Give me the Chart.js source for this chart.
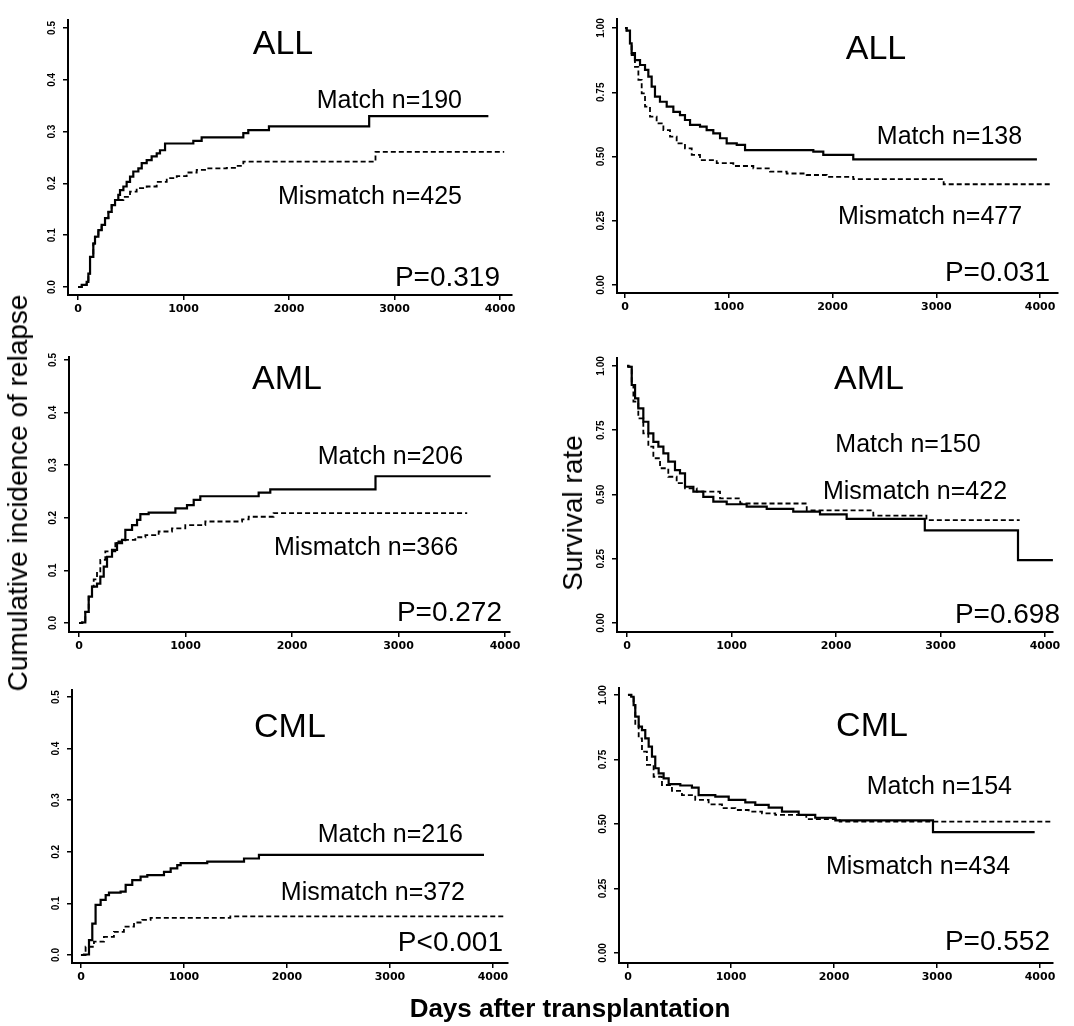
<!DOCTYPE html>
<html>
<head>
<meta charset="utf-8">
<script src="https://cdn.jsdelivr.net/npm/chart.js@4.4.1/dist/chart.umd.min.js"></script>
<style>
  body { margin: 0; background: #fff; }
  #wrap { position: relative; width: 1074px; height: 1026px; overflow: hidden; font-family: "Liberation Sans", Arial, sans-serif; color: #000; }
  #wrap canvas { position: absolute; }
  .title { position: absolute; white-space: nowrap; transform: translate(-50%, -50%); }
  .rot { transform: translate(-50%, -50%) rotate(-90deg); }
</style>
</head>
<body>
<div id="wrap">
  <canvas id="p1"></canvas>
  <canvas id="p2"></canvas>
  <canvas id="p3"></canvas>
  <canvas id="p4"></canvas>
  <canvas id="p5"></canvas>
  <canvas id="p6"></canvas>
  <div class="title rot" style="left:18px; top:493px; font-size:28px;">Cumulative incidence of relapse</div>
  <div class="title rot" style="left:573px; top:513px; font-size:28px;">Survival rate</div>
  <div class="title" style="left:570px; top:1008px; font-size:26px; font-weight:bold;">Days after transplantation</div>
</div>
<script>
// tick values
const dayTicks = [0, 1000, 2000, 3000, 4000];
const relapseTicks = [0, 0.1, 0.2, 0.3, 0.4, 0.5];
const survivalTicks = [0, 0.25, 0.5, 0.75, 1];

// [days, value]
const allRelapseMatch = [[0,0],[35,0.004],[82,0.01],[98,0.026],[114,0.058],[145,0.084],[161,0.097],[193,0.11],[224,0.12],[256,0.133],[288,0.145],[319,0.158],[351,0.168],[382,0.178],[398,0.187],[430,0.194],[461,0.203],[493,0.213],[524,0.223],[572,0.229],[604,0.239],[651,0.245],[698,0.252],[746,0.258],[777,0.264],[825,0.277],[1093,0.282],[1172,0.289],[1567,0.297],[1614,0.303],[1810,0.31],[2760,0.33],[3890,0.33]];
const allRelapseMismatch = [[0,0],[35,0.004],[82,0.01],[98,0.026],[114,0.058],[145,0.084],[161,0.097],[193,0.11],[224,0.12],[256,0.133],[288,0.145],[319,0.158],[351,0.168],[430,0.174],[493,0.184],[556,0.191],[651,0.194],[746,0.203],[841,0.21],[936,0.214],[1030,0.221],[1125,0.226],[1220,0.229],[1409,0.23],[1488,0.234],[1567,0.242],[2820,0.261],[4040,0.261]];
const allSurvMatch = [[0,1],[16,0.99],[48,0.94],[64,0.902],[96,0.875],[145,0.856],[193,0.837],[225,0.811],[257,0.772],[289,0.733],[337,0.713],[402,0.694],[466,0.674],[530,0.661],[578,0.642],[627,0.623],[723,0.616],[787,0.603],[851,0.59],[916,0.571],[980,0.551],[1077,0.545],[1157,0.525],[1815,0.519],[1911,0.506],[2200,0.489],[3970,0.489]];
const allSurvMismatch = [[0,1],[16,0.99],[48,0.94],[64,0.895],[96,0.849],[129,0.798],[161,0.746],[193,0.694],[241,0.655],[305,0.629],[370,0.603],[434,0.577],[498,0.551],[578,0.532],[643,0.506],[723,0.486],[884,0.474],[1044,0.463],[1237,0.454],[1398,0.441],[1558,0.434],[1751,0.428],[1944,0.421],[2200,0.412],[3071,0.392],[4115,0.392]];
const amlRelapseMatch = [[0,0],[28,0.001],[59,0.021],[91,0.05],[122,0.069],[169,0.075],[200,0.088],[232,0.107],[263,0.126],[310,0.139],[357,0.152],[404,0.158],[435,0.177],[498,0.186],[545,0.196],[576,0.207],[654,0.21],[905,0.218],[1014,0.224],[1077,0.234],[1139,0.241],[1687,0.248],[1796,0.254],[2784,0.279],[3865,0.279]];
const amlRelapseMismatch = [[0,0],[28,0.001],[59,0.021],[91,0.05],[122,0.069],[138,0.083],[169,0.098],[200,0.12],[247,0.136],[341,0.155],[435,0.158],[529,0.163],[623,0.167],[748,0.174],[873,0.18],[998,0.186],[1186,0.193],[1531,0.197],[1593,0.202],[1827,0.209],[3645,0.209]];
const amlSurvMatch = [[0,1],[13,0.997],[45,0.926],[77,0.874],[108,0.835],[156,0.783],[204,0.738],[252,0.705],[300,0.686],[348,0.66],[395,0.628],[459,0.595],[507,0.582],[555,0.53],[635,0.511],[730,0.491],[826,0.472],[954,0.462],[1145,0.453],[1337,0.444],[1591,0.433],[1847,0.423],[2102,0.405],[2850,0.36],[3742,0.245],[4076,0.245]];
const amlSurvMismatch = [[0,1],[13,0.997],[45,0.926],[61,0.861],[108,0.796],[156,0.738],[204,0.686],[252,0.641],[316,0.602],[395,0.569],[475,0.544],[555,0.524],[667,0.511],[890,0.485],[1083,0.465],[1720,0.438],[2357,0.418],[2866,0.4],[3758,0.4]];
const cmlRelapseMatch = [[0,0],[29,0.001],[78,0.029],[110,0.061],[142,0.097],[191,0.107],[240,0.116],[272,0.121],[385,0.123],[434,0.136],[498,0.145],[579,0.152],[644,0.155],[806,0.161],[871,0.168],[935,0.174],[968,0.178],[1226,0.181],[1583,0.187],[1728,0.194],[3913,0.194]];
const cmlRelapseMismatch = [[0,0],[45,0.016],[126,0.026],[223,0.035],[320,0.045],[417,0.055],[515,0.063],[595,0.068],[676,0.072],[1450,0.075],[4123,0.075]];
const cmlSurvMatch = [[0,1],[32,0.993],[55,0.961],[71,0.916],[104,0.877],[136,0.864],[168,0.832],[201,0.8],[233,0.761],[265,0.716],[298,0.696],[346,0.677],[395,0.654],[508,0.649],[621,0.641],[686,0.612],[848,0.606],[978,0.593],[1139,0.584],[1236,0.574],[1366,0.563],[1495,0.548],[1657,0.535],[1818,0.524],[2013,0.514],[2961,0.468],[3948,0.468]];
const cmlSurvMismatch = [[0,1],[32,0.993],[55,0.961],[71,0.884],[104,0.832],[136,0.78],[184,0.729],[249,0.683],[330,0.651],[427,0.628],[524,0.612],[653,0.593],[783,0.576],[913,0.561],[1042,0.554],[1172,0.548],[1301,0.541],[1430,0.535],[1731,0.519],[2055,0.509],[4142,0.509]];

// area = chart area in page px [left, top, right, bottom]; texts = [text, day, value, align, size]
const panels = [
  { id: 'p1', area: [68, 20, 512, 295], x: [-95, 4114], y: [-0.0154, 0.5154], ticks: relapseTicks, digits: 1,
    match: allRelapseMatch, mismatch: allRelapseMismatch,
    texts: [['ALL', 1943, 0.467, 'center', 34], ['Match n=190', 3640, 0.359, 'right', 25], ['Mismatch n=425', 3640, 0.174, 'right', 25], ['P=0.319', 4000, 0.017, 'right', 28]] },
  { id: 'p2', area: [617, 19, 1058, 293], x: [-77, 4173], y: [-0.031, 1.035], ticks: survivalTicks, digits: 2,
    match: allSurvMatch, mismatch: allSurvMismatch,
    texts: [['ALL', 2419, 0.914, 'center', 34], ['Match n=138', 3827, 0.576, 'right', 25], ['Mismatch n=477', 3827, 0.265, 'right', 25], ['P=0.031', 4096, 0.047, 'right', 28]] },
  { id: 'p3', area: [69, 357, 510, 632], x: [-94, 4047], y: [-0.0171, 0.5057], ticks: relapseTicks, digits: 1,
    match: amlRelapseMatch, mismatch: amlRelapseMismatch,
    texts: [['AML', 1953, 0.462, 'center', 34], ['Match n=206', 3606, 0.316, 'right', 25], ['Mismatch n=366', 3559, 0.143, 'right', 25], ['P=0.272', 3972, 0.019, 'right', 28]] },
  { id: 'p4', area: [617, 358, 1053, 632], x: [-96, 4077], y: [-0.035, 1.031], ticks: survivalTicks, digits: 2,
    match: amlSurvMatch, mismatch: amlSurvMismatch,
    texts: [['AML', 2316, 0.945, 'center', 34], ['Match n=150', 2689, 0.693, 'center', 25], ['Mismatch n=422', 2756, 0.51, 'center', 25], ['P=0.698', 4144, 0.031, 'right', 28]] },
  { id: 'p5', area: [72, 690, 508, 963], x: [-87, 4146], y: [-0.0155, 0.5136], ticks: relapseTicks, digits: 1,
    match: cmlRelapseMatch, mismatch: cmlRelapseMismatch,
    texts: [['CML', 2029, 0.44, 'center', 34], ['Match n=216', 3709, 0.233, 'right', 25], ['Mismatch n=372', 3728, 0.12, 'right', 25], ['P<0.001', 4097, 0.023, 'right', 28]] },
  { id: 'p6', area: [619, 688, 1053, 963], x: [-87, 4126], y: [-0.039, 1.027], ticks: survivalTicks, digits: 2,
    match: cmlSurvMatch, mismatch: cmlSurvMismatch,
    texts: [['CML', 2369, 0.876, 'center', 34], ['Match n=154', 3728, 0.643, 'right', 25], ['Mismatch n=434', 3709, 0.333, 'right', 25], ['P=0.552', 4097, 0.043, 'right', 28]] }
];

const padL = 45, padT = 10, padR = 30, padB = 30;

// draws the rotated y tick labels and the panel annotations
const panelText = {
  id: 'panelText',
  afterDraw(chart, args, opts) {
    const ctx = chart.ctx, xs = chart.scales.x, ys = chart.scales.y;
    ctx.save();
    ctx.fillStyle = '#000';
    ctx.textBaseline = 'middle';
    ctx.textAlign = 'center';
    ctx.font = 'bold 10px "Liberation Sans"';
    ys.ticks.forEach(t => {
      ctx.save();
      ctx.translate(ys.right - 16, ys.getPixelForValue(t.value));
      ctx.rotate(-Math.PI / 2);
      ctx.fillText(t.value.toFixed(opts.digits), 0, 0);
      ctx.restore();
    });
    opts.texts.forEach(([txt, dx, vy, align, size]) => {
      ctx.font = size + 'px "Liberation Sans"';
      ctx.textAlign = align;
      ctx.fillText(txt, xs.getPixelForValue(dx), ys.getPixelForValue(vy));
    });
    ctx.restore();
  }
};

panels.forEach(p => {
  const [L, T, R, B] = p.area;
  const canvas = document.getElementById(p.id);
  canvas.width = R - L + padL + padR;
  canvas.height = B - T + padT + padB;
  canvas.style.left = (L - padL) + 'px';
  canvas.style.top = (T - padT) + 'px';

  new Chart(canvas, {
    type: 'line',
    data: {
      datasets: [{
        label: 'Match',
        data: p.match.map(([x, y]) => ({ x, y })),
        stepped: true,
        borderColor: '#000',
        borderWidth: 2.2,
        pointRadius: 0,
        fill: false
      }, {
        label: 'Mismatch',
        data: p.mismatch.map(([x, y]) => ({ x, y })),
        stepped: true,
        borderColor: '#000',
        borderWidth: 1.8,
        borderDash: [5, 3],
        pointRadius: 0,
        fill: false
      }]
    },
    options: {
      responsive: false,
      animation: false,
      devicePixelRatio: 1,
      layout: { padding: { left: 0, top: padT, right: padR, bottom: 0 } },
      plugins: {
        legend: { display: false },
        tooltip: { enabled: false },
        panelText: { texts: p.texts, digits: p.digits }
      },
      scales: {
        x: {
          type: 'linear',
          min: p.x[0],
          max: p.x[1],
          afterBuildTicks: s => { s.ticks = dayTicks.map(v => ({ value: v })); },
          afterFit: s => { s.height = padB; },
          grid: { display: true, drawOnChartArea: false, drawTicks: true, tickLength: 5, color: '#000', lineWidth: 1.5 },
          border: { display: true, color: '#000', width: 2 },
          ticks: {
            color: '#000',
            padding: 3,
            maxRotation: 0,
            autoSkip: false,
            font: { family: 'DejaVu Sans', weight: 'bold', size: 11 },
            callback: v => String(v)
          }
        },
        y: {
          type: 'linear',
          min: p.y[0],
          max: p.y[1],
          afterBuildTicks: s => { s.ticks = p.ticks.map(v => ({ value: v })); },
          afterFit: s => { s.width = padL; },
          grid: { display: true, drawOnChartArea: false, drawTicks: true, tickLength: 5, color: '#000', lineWidth: 1.5 },
          border: { display: true, color: '#000', width: 2 },
          ticks: { display: false }
        }
      }
    },
    plugins: [panelText]
  });
});
</script>
</body>
</html>
